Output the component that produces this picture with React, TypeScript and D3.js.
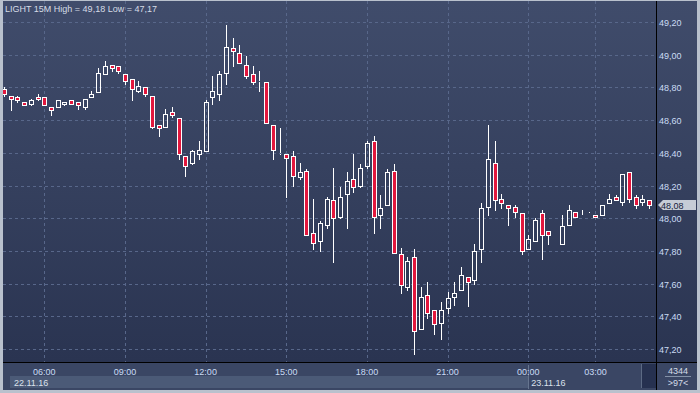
import * as d3 from 'd3';

const opens = [
  48.79, 48.75, 48.74, 48.71, 48.70, 48.74, 48.74, 48.68, 48.68, 48.70,
  48.72, 48.71, 48.68, 48.74, 48.77, 48.88, 48.94, 48.93, 48.88, 48.85,
  48.78, 48.80, 48.75, 48.57, 48.56, 48.65, 48.61, 48.38, 48.34, 48.39,
  48.41, 48.74, 48.76, 48.89, 49.04, 49.01, 48.94, 48.88, 48.84, 48.83,
  48.57, 48.40, 48.39, 48.38, 48.25, 48.29, 47.91, 47.86, 47.96, 48.11,
  48.01, 48.15, 48.24, 48.20, 48.32, 48.47, 48.02, 48.08, 48.29, 47.78,
  47.58, 47.76, 47.32, 47.53, 47.44, 47.36, 47.45, 47.52, 47.56, 47.64,
  47.62, 47.81, 48.07, 48.34, 48.12, 48.08, 48.07, 48.03, 47.81, 47.86,
  48.03, 47.92, 47.88, 47.84, 47.96, 48.04, 48.02, 48.03, 48.02, 48.02,
  48.09, 48.13, 48.10, 48.28, 48.13, 48.10, 48.11,
];
const highs = [
  48.80, 48.75, 48.75, 48.71, 48.73, 48.76, 48.74, 48.68, 48.72, 48.71,
  48.72, 48.71, 48.73, 48.78, 48.92, 48.96, 48.94, 48.93, 48.88, 48.85,
  48.84, 48.80, 48.75, 48.57, 48.67, 48.68, 48.61, 48.38, 48.42, 48.47,
  48.72, 48.87, 48.90, 49.18, 49.10, 49.06, 48.99, 48.93, 48.90, 48.83,
  48.57, 48.55, 48.39, 48.41, 48.34, 48.30, 48.12, 47.98, 48.13, 48.31,
  48.19, 48.28, 48.39, 48.33, 48.47, 48.50, 48.14, 48.30, 48.33, 47.82,
  47.76, 47.81, 47.58, 47.61, 47.44, 47.49, 47.55, 47.61, 47.70, 47.64,
  47.84, 48.09, 48.57, 48.47, 48.15, 48.08, 48.08, 48.03, 47.90, 48.00,
  48.05, 47.92, 47.88, 48.02, 48.08, 48.04, 48.05, 48.04, 48.02, 48.08,
  48.15, 48.14, 48.27, 48.28, 48.14, 48.14, 48.11,
];
const lows = [
  48.75, 48.66, 48.71, 48.69, 48.69, 48.72, 48.69, 48.63, 48.68, 48.69,
  48.70, 48.67, 48.67, 48.74, 48.77, 48.88, 48.90, 48.89, 48.82, 48.72,
  48.77, 48.75, 48.55, 48.50, 48.56, 48.62, 48.36, 48.26, 48.33, 48.36,
  48.41, 48.70, 48.72, 48.82, 48.93, 48.95, 48.86, 48.82, 48.78, 48.58,
  48.36, 48.39, 48.13, 48.20, 48.24, 47.90, 47.81, 47.80, 47.94, 47.73,
  48.00, 47.94, 48.16, 48.19, 48.31, 47.91, 47.94, 48.08, 47.79, 47.54,
  47.56, 47.17, 47.32, 47.39, 47.29, 47.26, 47.42, 47.47, 47.56, 47.46,
  47.60, 47.73, 48.02, 48.05, 48.06, 47.96, 48.01, 47.78, 47.81, 47.86,
  47.75, 47.84, 47.88, 47.84, 47.96, 48.01, 48.02, 48.03, 48.01, 48.02,
  48.09, 48.11, 48.08, 48.10, 48.06, 48.08, 48.06,
];
const closes = [
  48.76, 48.73, 48.72, 48.69, 48.72, 48.73, 48.69, 48.66, 48.72, 48.71,
  48.70, 48.69, 48.73, 48.76, 48.89, 48.93, 48.92, 48.90, 48.84, 48.79,
  48.81, 48.76, 48.56, 48.55, 48.64, 48.63, 48.39, 48.32, 48.41, 48.42,
  48.71, 48.78, 48.88, 49.05, 49.02, 48.95, 48.87, 48.83, 48.84, 48.58,
  48.42, 48.40, 48.37, 48.26, 48.28, 47.90, 47.85, 47.97, 48.12, 48.00,
  48.13, 48.23, 48.19, 48.31, 48.46, 48.01, 48.06, 48.28, 47.79, 47.59,
  47.74, 47.31, 47.52, 47.42, 47.35, 47.44, 47.51, 47.54, 47.65, 47.61,
  47.80, 48.06, 48.36, 48.11, 48.09, 48.06, 48.04, 47.80, 47.87, 47.99,
  47.90, 47.90, 47.88, 47.95, 48.05, 48.01, 48.02, 48.03, 48.01, 48.08,
  48.12, 48.11, 48.27, 48.12, 48.08, 48.12, 48.08,
];

const priceTicks = [47.2, 47.4, 47.6, 47.8, 48.0, 48.2, 48.4, 48.6, 48.8, 49.0, 49.2];
const timeTickIndex = [6, 18, 30, 42, 54, 66, 78, 88];
const timeTickLabels = ['06:00', '09:00', '12:00', '15:00', '18:00', '21:00', '00:00', '03:00'];
const dateIndex = [0, 78];
const dateLabels = ['22.11.16', '23.11.16'];

const W = 700;
const H = 393;
const plotL = 3;
const plotR = 656;
const plotT = 1;
const plotB = 362;
const FONT = '"Liberation Sans", Arial, sans-serif';
const RED = '#e2173d';
const fmt = (v: number) => v.toFixed(2).replace('.', ',');

export default function App() {
  const x = d3.scaleLinear().domain([0, 96]).range([4, 649.2]);
  const y = d3.scaleLinear().domain([47.2, 49.2]).range([349, 22]);
  const crisp = (v: number) => Math.round(v) + 0.5;

  const high = d3.max(highs) as number;
  const low = d3.min(lows) as number;
  const last = closes[closes.length - 1];
  const ly = Math.round(y(last));

  return (
    <div style={{ position: 'fixed', left: 0, top: 0 }}>
      <svg width={W} height={H} style={{ display: 'block', fontFamily: FONT }}>
        <defs>
          <linearGradient id="bg" x1="0" y1="0" x2="0" y2="1">
            <stop offset="0" stopColor="#404c6b" />
            <stop offset="1" stopColor="#2a3451" />
          </linearGradient>
          <clipPath id="plot">
            <rect x={plotL} y={plotT} width={plotR - plotL} height={plotB - plotT} />
          </clipPath>
        </defs>

        {/* frame */}
        <rect x={0} y={0} width={W} height={H} fill="#b9c1cd" />
        <rect x={plotL} y={plotT} width={697 - plotL} height={plotB - plotT} fill="url(#bg)" />
        <rect x={plotL} y={plotB} width={697 - plotL} height={390 - plotB} fill="#3a4664" />

        {/* grid */}
        <g stroke="#58678a" strokeWidth={1} strokeDasharray="3,3">
          {priceTicks.map(t => (
            <line key={t} x1={plotL} x2={plotR} y1={crisp(y(t))} y2={crisp(y(t))} />
          ))}
          {timeTickIndex.map(i => (
            <line key={i} x1={crisp(x(i))} x2={crisp(x(i))} y1={plotT} y2={plotB} />
          ))}
        </g>

        {/* candles */}
        <g clipPath="url(#plot)">
          {opens.map((o, i) => {
            const c = closes[i];
            const cx = Math.round(x(i));
            const top = Math.round(y(Math.max(o, c)));
            const bot = Math.round(y(Math.min(o, c)));
            const hi = Math.round(y(highs[i]));
            const lo = Math.round(y(lows[i]));
            const up = c >= o;
            return (
              <g key={i}>
                {hi < top && <line x1={cx + 0.5} x2={cx + 0.5} y1={hi} y2={top} stroke="#fff" />}
                {lo > bot && <line x1={cx + 0.5} x2={cx + 0.5} y1={bot + 1} y2={lo + 1} stroke="#fff" />}
                <rect x={cx - 1.5} y={top + 0.5} width={4} height={bot - top}
                  fill={up ? 'none' : RED} stroke="#fff" strokeWidth={1} />
              </g>
            );
          })}
        </g>

        {/* title */}
        <text x={5} y={12} fontSize={9} fill="#d6dce6">
          {`LIGHT 15M High = ${fmt(high)} Low = ${fmt(low)}`}
        </text>

        {/* price axis */}
        {priceTicks.map(t => (
          <text key={t} x={659} y={Math.round(y(t)) + 3.5} fontSize={9} fill="#cadcf4">{fmt(t)}</text>
        ))}
        <path d={`M658,${ly} L663,${ly - 5} L696,${ly - 5} L696,${ly + 5} L663,${ly + 5} Z`} fill="#c6ccd6" />
        <text x={661} y={ly + 3.5} fontSize={9} fill="#16213a">{fmt(last)}</text>

        {/* time axis */}
        <rect x={10} y={376} width={x(dateIndex[1]) - 10} height={12} fill="#4b5a77" />
        <line x1={crisp(x(dateIndex[1]))} x2={crisp(x(dateIndex[1]))} y1={365} y2={389} stroke="#66758f" />
        {timeTickIndex.map((i, k) => (
          <text key={i} x={x(i)} y={375} fontSize={9} textAnchor="middle" fill="#cadcf4">{timeTickLabels[k]}</text>
        ))}
        {dateIndex.map((i, k) => (
          <text key={i} x={k === 0 ? 14 : x(i) + 3} y={386} fontSize={9} fill="#dbe2ec">{dateLabels[k]}</text>
        ))}
        <rect x={642} y={364} width={14} height={24} fill="#263150" />
        <line x1={641.5} x2={641.5} y1={364} y2={388} stroke="#5c6a84" />

        {/* bar count */}
        <text x={678} y={374} fontSize={9} textAnchor="middle" fill="#d6dde8">4344</text>
        <line x1={665} x2={691} y1={376.5} y2={376.5} stroke="#8492a8" />
        <text x={678} y={386} fontSize={9} textAnchor="middle" fill="#d6dde8">{`>${opens.length}<`}</text>

        {/* separators */}
        <line x1={plotL} x2={697} y1={plotB + 0.5} y2={plotB + 0.5} stroke="#000" />
        <line x1={plotR + 0.5} x2={plotR + 0.5} y1={plotT} y2={390} stroke="#000" />
      </svg>
    </div>
  );
}
